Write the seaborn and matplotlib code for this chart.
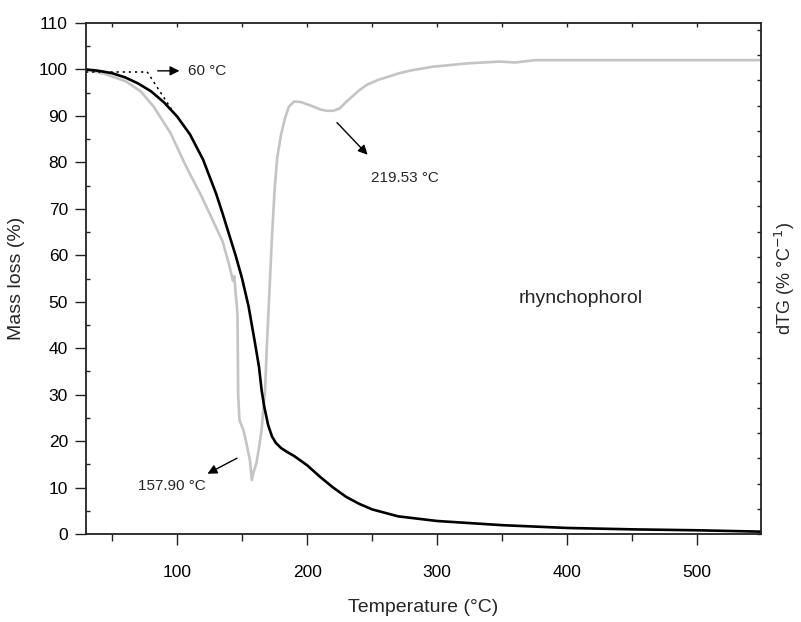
import numpy as np
import pandas as pd
import matplotlib
matplotlib.use("Agg")
import matplotlib.pyplot as plt
from matplotlib.ticker import MultipleLocator, FixedLocator, NullFormatter
import seaborn as sns

# ---- data ----
tg_temp = [30, 40, 50, 60, 70, 80, 90, 100, 110, 120, 130, 135, 140, 145, 150, 155,
           160, 163, 165, 167, 170, 173, 176, 180, 185, 190, 200, 210, 220, 230,
           240, 250, 270, 300, 350, 400, 450, 500, 550]
tg_mass = [100, 99.7, 99.2, 98.3, 97.0, 95.3, 92.9, 89.9, 86.0, 80.6, 73.3, 69.0,
           64.5, 60.0, 55.0, 49.0, 41.0, 36.0, 31.0, 27.5, 23.5, 21.0, 19.6, 18.5,
           17.6, 16.8, 14.8, 12.3, 10.0, 8.0, 6.5, 5.3, 3.8, 2.8, 1.9, 1.3, 1.0,
           0.8, 0.5]

dtg_temp = [30, 45, 61, 72, 82, 95, 107, 119, 125, 130, 135, 140, 143, 144, 145,
            146, 146.5, 147, 148, 151, 153, 156, 157.5, 159, 161, 163, 165, 167.7,
            169, 171, 173, 175, 177, 180, 183, 186, 190, 195, 200, 205, 210, 215,
            220, 225, 230, 240, 246, 255, 262, 271, 280, 297, 323, 348, 360, 375,
            400, 450, 500, 550]
dtg_vis = [100, 99.0, 97.4, 95.3, 92.0, 86.3, 79.1, 72.6, 69.0, 66.0, 63.0, 58.0,
           54.5, 55.5, 52.0, 49.0, 47.0, 30.0, 24.5, 22.4, 20.0, 15.9, 11.6, 13.5,
           15.2, 18.5, 22.4, 31.0, 40.0, 52.0, 64.0, 74.0, 81.0, 86.0, 89.5, 92.0,
           93.1, 93.0, 92.5, 92.0, 91.4, 91.1, 91.1, 91.6, 93.0, 95.5, 96.7, 97.8,
           98.4, 99.2, 99.8, 100.6, 101.3, 101.7, 101.5, 102.0, 102.0, 102.0,
           102.0, 102.0]

x_ticks = [100, 200, 300, 400, 500]
y_ticks = [0, 10, 20, 30, 40, 50, 60, 70, 80, 90, 100, 110]

tg = pd.DataFrame({"T": tg_temp, "mass": tg_mass})
dtg = pd.DataFrame({"T": dtg_temp, "d": dtg_vis})

sns.set_theme(style="ticks")
plt.rcParams["font.family"] = ["Liberation Sans", "DejaVu Sans"]

fig = plt.figure(figsize=(8.01, 6.22), dpi=100)
ax = fig.add_axes([86 / 801, 88 / 622, (761 - 86) / 801, (534 - 23) / 622])

sns.lineplot(data=dtg, x="T", y="d", ax=ax, color="#c4c4c4", linewidth=1.9,
             estimator=None, sort=False)
sns.lineplot(data=tg, x="T", y="mass", ax=ax, color="black", linewidth=1.9,
             estimator=None, sort=False)

ax.set_xlim(30, 549)
ax.set_ylim(0, 110)
ax.xaxis.set_major_locator(FixedLocator(x_ticks))
ax.xaxis.set_minor_locator(MultipleLocator(50))
ax.yaxis.set_major_locator(FixedLocator(y_ticks))
ax.yaxis.set_minor_locator(MultipleLocator(5))

for s in ax.spines.values():
    s.set_color("#222222")
    s.set_linewidth(1.3)
    s.set_visible(True)

ax.tick_params(axis="x", which="major", direction="out", length=8, width=1,
               color="#222222", labelsize=12.5, labelcolor="black", pad=14,
               top=False, bottom=True)
ax.tick_params(axis="x", which="minor", direction="out", length=5, width=1,
               color="#222222", top=False, bottom=True)
ax.tick_params(axis="y", which="major", direction="out", length=8, width=1,
               color="#222222", labelsize=12.5, labelcolor="black", pad=5,
               left=True, right=False)
ax.tick_params(axis="y", which="minor", direction="in", length=3, width=1,
               color="#222222", left=True, right=False)

# top spine ticks (inward, unlabeled)
top = ax.secondary_xaxis("top")
top.xaxis.set_major_locator(MultipleLocator(50))
top.xaxis.set_major_formatter(NullFormatter())
top.tick_params(axis="x", which="major", direction="in", length=3, width=1,
                color="#222222")
top.spines["top"].set_visible(False)

ax.set_xlabel("Temperature (°C)", fontsize=14, labelpad=14)
ax.set_ylabel("Mass loss (%)", fontsize=14, labelpad=10)

# right (dTG) axis: ticks only
ax2 = ax.twinx()
ax2.set_ylim(0, 110)
ax2.yaxis.set_major_locator(FixedLocator(list(np.arange(0, 111, 5.425))))
ax2.yaxis.set_major_formatter(NullFormatter())
ax2.tick_params(axis="y", which="major", direction="in", length=3, width=1,
                color="#222222")
for s in ax2.spines.values():
    s.set_visible(False)
ax2.set_ylabel("dTG (% °C$^{-1}$)", fontsize=13, labelpad=5)

# annotations
ax.plot([30, 77], [99.5, 99.5], linestyle=(0, (1.5, 2.5)), color="black", linewidth=1.1)
ax.plot([77, 96], [99.5, 91.3], linestyle=(0, (1.5, 2.5)), color="black", linewidth=1.1)
ax.annotate("", xy=(104, 99.7), xytext=(83, 99.7),
            arrowprops=dict(arrowstyle="-|>", color="black", lw=1.0,
                            mutation_scale=14))
ax.text(108.5, 99.7, "60 °C", fontsize=11, va="center", ha="left")

ax.annotate("", xy=(248, 81.2), xytext=(221.5, 89),
            arrowprops=dict(arrowstyle="-|>", color="black", lw=1.0,
                            mutation_scale=14))
ax.text(275.5, 76.6, "219.53 °C", fontsize=11, va="center", ha="center")

ax.annotate("", xy=(121.5, 12.7), xytext=(148, 16.6),
            arrowprops=dict(arrowstyle="-|>", color="black", lw=1.0,
                            mutation_scale=14))
ax.text(96, 10.3, "157.90 °C", fontsize=11, va="center", ha="center")

ax.text(410, 50.8, "rhynchophorol", fontsize=14, va="center", ha="center")

fig.savefig("out.png", dpi=100)
